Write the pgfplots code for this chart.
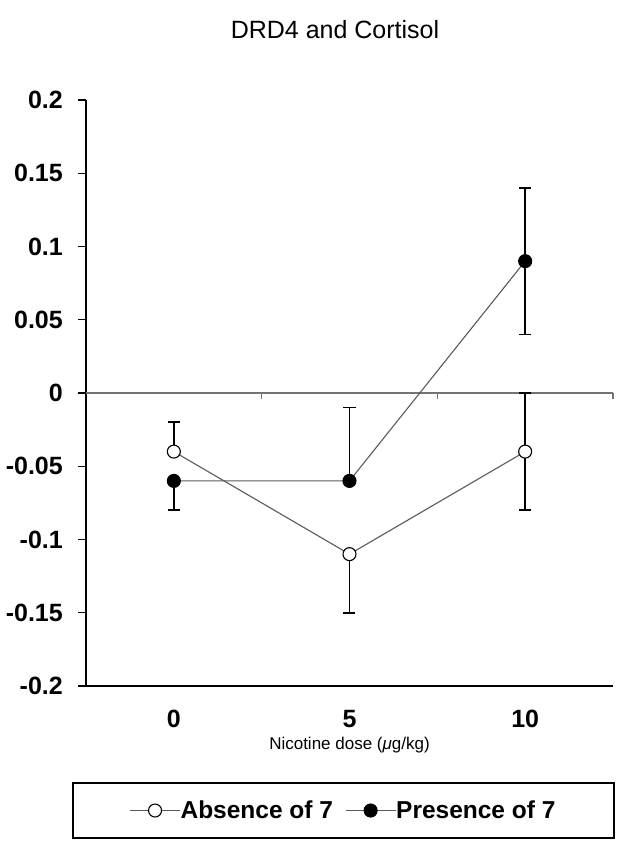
\documentclass[border=0pt]{standalone}
\usepackage{pgfplots}
\pgfplotsset{compat=1.18}
\usepackage{fontspec}
\setmainfont{Liberation Sans}
\colorlet{cLine}{black!65}

\begin{document}
\begin{tikzpicture}[x=1pt,y=1pt]
\useasboundingbox (0,0) rectangle (634,855);
\begin{axis}[
  at={(86pt,169pt)}, anchor=south west,
  scale only axis, width=527pt, height=586pt,
  xmin=0, xmax=3, ymin=-0.2, ymax=0.2,
  axis x line=bottom, axis y line=left,
  axis line style={-, line width=1.4pt, black},
  xtick={0.5,1.5,2.5}, xticklabels={0,5,10},
  ytick={-0.2,-0.15,-0.1,-0.05,0,0.05,0.1,0.15,0.2},
  yticklabels={-0.2,-0.15,-0.1,-0.05,0,0.05,0.1,0.15,0.2},
  tick align=outside,
  xtick style={draw=none},
  ytick style={line width=1.2pt, black},
  major tick length=8pt,
  ticklabel style={font=\bfseries\fontsize{25}{28}\selectfont},
  xticklabel style={inner sep=0pt, yshift=-16pt},
  yticklabel style={inner sep=0pt, xshift=-15pt},
  xlabel={Nicotine dose ({\itshape μ}g/kg)},
  xlabel style={font=\fontsize{17}{19}\selectfont,
                at={(axis description cs:0.5,-0.1007)}, anchor=center},
  legend style={at={(axis description cs:0.4886,-0.2125)}, anchor=center,
                draw=none, fill=none, legend columns=2,
                font=\bfseries\fontsize{24.5}{28}\selectfont,
                /tikz/every odd column/.append style={column sep=-2pt},
                /tikz/every even column/.append style={column sep=10pt}},
  legend image code/.code={
    \draw[mark repeat=2, mark phase=2, #1]
      plot coordinates {(0pt,0pt) (25pt,0pt) (50pt,0pt)};},
  clip=false,
]
% zero reference line with its small ticks
\draw[black!55, line width=1.1pt] (axis cs:0,0) -- (axis cs:3,0);
\draw[black!55, line width=1.1pt] (axis cs:1,0) -- ([yshift=-6pt]axis cs:1,0);
\draw[black!55, line width=1.1pt] (axis cs:2,0) -- ([yshift=-6pt]axis cs:2,0);
\draw[black!55, line width=1.1pt] (axis cs:3,0) -- ([yshift=-6pt]axis cs:3,0);

\addplot[cLine, line width=1.1pt, mark=*, mark size=6.5pt,
         mark options={fill=white, draw=black, line width=1.1pt},
         error bars/.cd, y dir=both, y explicit,
         error bar style={black, line width=1.7pt},
         error mark options={rotate=90, mark size=6pt, black, line width=1.7pt}]
  coordinates {(0.5,-0.04) += (0,0.02) -= (0,0)
               (1.5,-0.11) += (0,0) -= (0,0.04)
               (2.5,-0.04) += (0,0.04) -= (0,0.04)};
\addlegendentry{Absence of 7}

\addplot[cLine, line width=1.1pt, mark=*, mark size=6.5pt,
         mark options={fill=black, draw=black},
         error bars/.cd, y dir=both, y explicit,
         error bar style={black, line width=1.7pt},
         error mark options={rotate=90, mark size=6pt, black, line width=1.7pt}]
  coordinates {(0.5,-0.06) += (0,0) -= (0,0.02)
               (1.5,-0.06) += (0,0.05) -= (0,0)
               (2.5,0.09) += (0,0.05) -= (0,0.05)};
\addlegendentry{Presence of 7}
\end{axis}
\node[font=\fontsize{25}{29}\selectfont] at (335,825) {DRD4 and Cortisol};
\draw[line width=1.2pt] (73,17) rectangle (614,72);
\end{tikzpicture}
\end{document}
